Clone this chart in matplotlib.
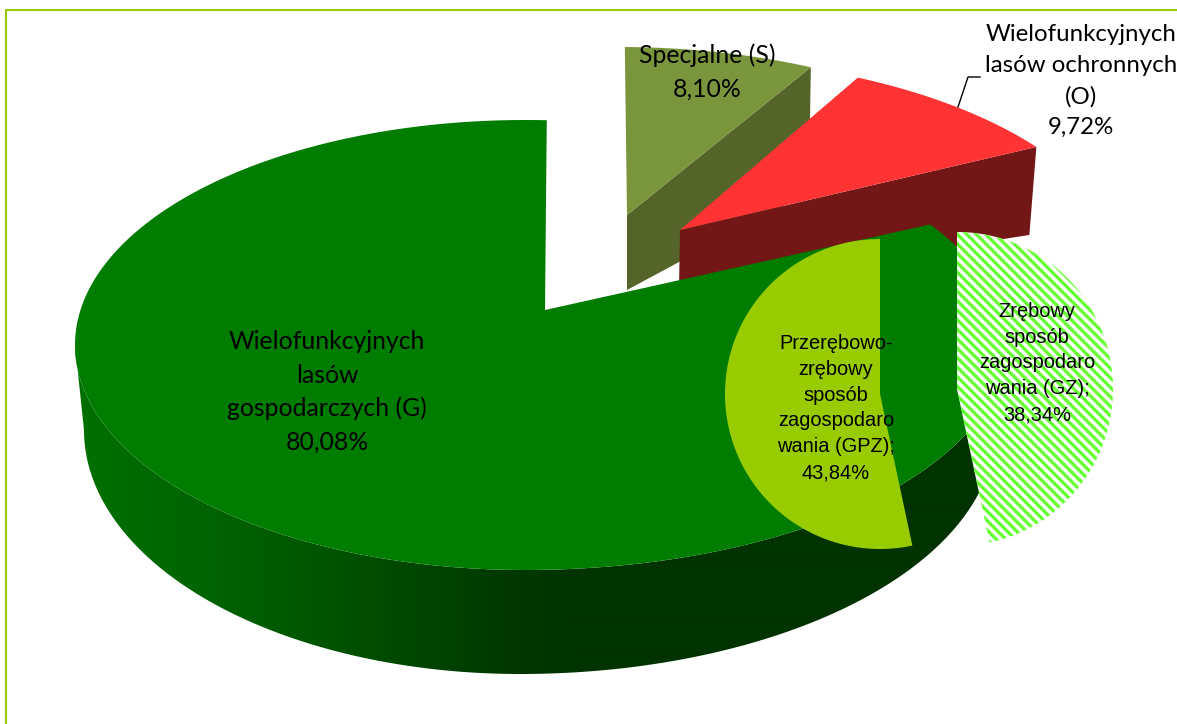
import numpy as np
import matplotlib
matplotlib.use('Agg')
from matplotlib import pyplot as plt
from matplotlib.patches import Polygon

# glowny wykres
main_labels = ['Wielofunkcyjnych\nlasów\ngospodarczych (G)\n80,08%',
               'Wielofunkcyjnych\nlasów ochronnych\n(O)\n9,72%',
               'Specjalne (S)\n8,10%']
main_values = [80.08, 9.72, 8.10]

# podzial G
sub_labels = ['Przerębowo-\nzrębowy\nsposób\nzagospodaro\nwania (GPZ);\n43,84%',
              'Zrębowy\nsposób\nzagospodaro\nwania (GZ);\n38,34%']
sub_values = [43.84, 38.34]

G_TOP = '#007D00'
O_TOP = '#FF3333'
O_SIDE = '#721616'
S_TOP = '#7A963C'
S_SIDE = '#55652A'
GPZ = '#99CC00'
GZ = '#66FF33'
BORDER = '#99CC00'


def ell(t, cx, cy, rxl, rxr, ry):
    # punkty na elipsie, os y w dol (piksele)
    t = np.radians(t)
    c, s = np.cos(t), np.sin(t)
    return cx + np.where(c < 0, rxl, rxr) * c, cy - ry * s


def sweep(v, k):
    return v * 3.6 * k


fig = plt.figure(figsize=(11.77, 7.24), dpi=100)
ax = fig.add_axes([0, 0, 1, 1])
ax.axis('off')

ax.plot([6, 6, 1177], [724, 10, 10], color=BORDER, lw=1.5, solid_joinstyle='miter')

# S
t2 = 89.4
t1 = t2 - sweep(main_values[2], 0.82)
xs, ys = ell(np.linspace(t1, t2, 40), 620, 272, 460, 460, 225)
ax.fill([627, xs[0], xs[0] - 2, 627], [215, ys[0], ys[0] + 125, 290], color=S_SIDE, lw=0, zorder=1)
ax.fill(np.r_[627, xs], np.r_[215, ys], color=S_TOP, lw=0, zorder=2)

# O
t2 = 65.9
t1 = t2 - sweep(main_values[1], 0.82)
xo, yo = ell(np.linspace(t1, t2, 40), 670, 283, 460, 460, 225)
ax.fill([680, xo[0], xo[0] - 7, 679], [230, yo[0], yo[0] + 88, 290], color=O_SIDE, lw=0, zorder=3)
ax.fill(np.r_[680, xo], np.r_[230, yo], color=O_TOP, lw=0, zorder=4)
ax.plot([958, 968, 980], [107, 77, 77], color='black', lw=1, zorder=4)

# G - bok z gradientem w poziomie
top = (525, 345, 450, 480, 225)
bot = (520, 430, 436, 475, 244)
ts = np.linspace(180, 362, 200)
xa, ya = ell(ts, *top)
xb, yb = ell(ts[::-1], *bot)
side = Polygon(np.c_[np.r_[xa, xb], np.r_[ya, yb]], closed=True, transform=ax.transData, fc='none', lw=0)
ax.add_patch(side)
px = np.arange(1177)
g = np.interp(px, [75, 200, 300, 400, 500, 570, 1177], [112, 100, 88, 72, 58, 51, 51])
grad = np.zeros((1, 1177, 3))
grad[0, :, 1] = g / 255
im = ax.imshow(grad, extent=(0, 1177, 724, 0), aspect='auto', zorder=5, interpolation='bilinear')
im.set_clip_path(side)

# G - gora
t1 = 87.4
t2 = t1 + sweep(main_values[0], 1.058)
xg, yg = ell(np.linspace(t1, t2, 400), *top)
ax.fill(np.r_[545, xg], np.r_[310, yg], color=G_TOP, lw=0, zorder=6)

# drugi wykres, wartosci znormalizowane
total = sum(sub_values)
gpz_sweep = sub_values[0] / total * 360
gz_sweep = sub_values[1] / total * 360
x1, y1 = ell(np.linspace(90, 90 + gpz_sweep, 200), 880, 394, 155, 155, 155)
ax.fill(np.r_[880, x1], np.r_[394, y1], color=GPZ, lw=0, zorder=7)
x2, y2 = ell(np.linspace(90, 90 - gz_sweep, 200), 957, 389, 156, 156, 157)
wedge, = ax.fill(np.r_[957, x2], np.r_[389, y2], facecolor='white', lw=0, zorder=7)
# paski GZ
for x0 in np.arange(600, 1300, 9.5):
    ln, = ax.plot([x0, x0 + 400], [200, 600], color=GZ, lw=2.4, solid_capstyle='butt', zorder=7.5)
    ln.set_clip_path(wedge)

# etykiety
calibri = ['Lato', 'DejaVu Sans']
arial = ['Liberation Sans', 'DejaVu Sans']
ax.text(327, 392, main_labels[0], ha='center', va='center', fontsize=17.8, family=calibri, linespacing=1.53, zorder=9)
ax.text(1081, 81, main_labels[1], ha='center', va='center', fontsize=17.3, family=calibri, linespacing=1.58, zorder=9)
ax.text(707, 72, main_labels[2], ha='center', va='center', fontsize=17.8, family=calibri, linespacing=1.53, zorder=9)
ax.text(836, 408, sub_labels[0], ha='center', va='center', fontsize=14.4, family=arial, linespacing=1.46, zorder=9)
ax.text(1037, 363, sub_labels[1], ha='center', va='center', fontsize=14.4, family=arial, linespacing=1.46, zorder=9)

ax.set_xlim(0, 1177)
ax.set_ylim(724, 0)
fig.savefig('out.png', dpi=100)
